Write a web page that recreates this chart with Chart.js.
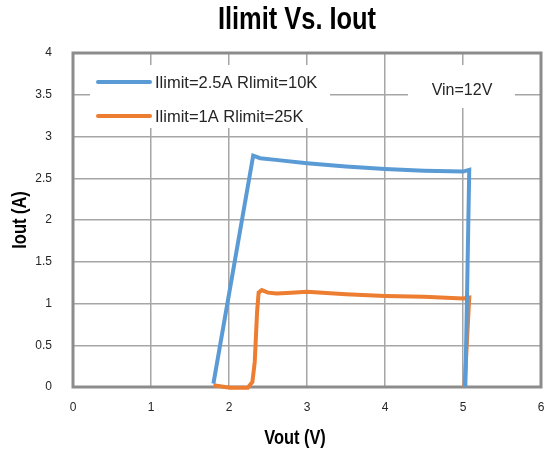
<!DOCTYPE html>
<html>
<head>
<meta charset="utf-8">
<script src="https://cdn.jsdelivr.net/npm/chart.js@4"></script>
<style>
  html, body { margin: 0; background: #fff; }
  #wrap { width: 545px; height: 455px; }
</style>
</head>
<body>
<div id="wrap"><canvas id="chart"></canvas></div>
<script>
// Ilimit=2.5A Rlimit=10K
const blue_x = [1.80, 2.31, 2.40, 2.60, 3.00, 3.50, 4.00, 4.50, 5.00, 5.08, 5.05, 5.03];
const blue_y = [0.04, 2.77, 2.74, 2.72, 2.68, 2.64, 2.61, 2.59, 2.58, 2.60, 1.00, 0.00];
// Ilimit=1A Rlimit=25K
const orange_x = [1.80, 2.01, 2.24, 2.30, 2.33, 2.36, 2.38, 2.42, 2.50, 2.61, 2.80, 3.00, 3.50, 4.00, 4.50, 5.00, 5.08, 5.02];
const orange_y = [0.02, -0.01, -0.01, 0.06, 0.30, 0.90, 1.13, 1.16, 1.13, 1.12, 1.13, 1.14, 1.11, 1.09, 1.08, 1.06, 1.07, 0.00];

const series_names = ["Ilimit=2.5A Rlimit=10K", "Ilimit=1A Rlimit=25K"];
const chart_title = "Ilimit Vs. Iout";
const x_title = "Vout (V)";
const y_title = "Iout (A)";
const note_text = "Vin=12V";

const to_points = (xs, ys) => xs.map((x, i) => ({ x: x, y: ys[i] }));

// bold text squeezed sideways, no narrow font installed
function narrow_text(ctx, text, x, y, size, rot) {
  ctx.save();
  ctx.translate(x, y);
  ctx.rotate(rot);
  ctx.scale(0.82, 1);
  ctx.font = "bold " + size + "px 'Liberation Sans'";
  ctx.fillStyle = "#000";
  ctx.textAlign = "center";
  ctx.textBaseline = "alphabetic";
  ctx.fillText(text, 0, 0);
  ctx.restore();
}

// titles, in-plot legend, note box and plot frame
const extras = {
  id: "extras",
  beforeDatasetsDraw(chart) {
    const { ctx, chartArea: a } = chart;
    ctx.save();
    ctx.fillStyle = "#fff";
    ctx.fillRect(a.left + 17, a.top + 12, 240, 63);
    ctx.fillRect(a.left + 335, a.top + 12, 107, 43);
    ctx.strokeStyle = "#8c8c8c";
    ctx.lineWidth = 3;
    ctx.strokeRect(a.left, a.top, a.right - a.left, a.bottom - a.top);
    ctx.restore();
  },
  afterDraw(chart) {
    const { ctx, chartArea: a } = chart;
    ctx.save();
    chart.data.datasets.forEach((ds, i) => {
      const y = a.top + 29 + i * 34;
      ctx.strokeStyle = ds.borderColor;
      ctx.lineWidth = 4;
      ctx.lineCap = "round";
      ctx.beginPath();
      ctx.moveTo(a.left + 25, y);
      ctx.lineTo(a.left + 77, y);
      ctx.stroke();
      ctx.fillStyle = "#262626";
      ctx.font = "16.5px 'Liberation Sans'";
      ctx.textBaseline = "middle";
      ctx.textAlign = "left";
      ctx.fillText(ds.label, a.left + 82, y + 1);
    });
    ctx.textAlign = "center";
    ctx.font = "16px 'Liberation Sans'";
    ctx.fillText(note_text, a.left + 389, a.top + 38);
    ctx.restore();

    narrow_text(ctx, chart_title, 297, 29, 31, 0);
    narrow_text(ctx, x_title, 295, 444, 20, 0);
    narrow_text(ctx, y_title, 26, (a.top + a.bottom) / 2, 20, -Math.PI / 2);
  }
};

const tick_font = { family: "'Liberation Sans'", size: 12 };

new Chart(document.getElementById("chart"), {
  type: "scatter",
  data: {
    datasets: [
      {
        label: series_names[0],
        data: to_points(blue_x, blue_y),
        showLine: true,
        borderColor: "#5b9bd5",
        borderWidth: 4,
        pointRadius: 0,
        clip: false
      },
      {
        label: series_names[1],
        data: to_points(orange_x, orange_y),
        showLine: true,
        borderColor: "#ed7d31",
        borderWidth: 4,
        pointRadius: 0,
        clip: false
      }
    ]
  },
  options: {
    responsive: true,
    maintainAspectRatio: false,
    animation: false,
    layout: { padding: { top: 53, right: 4, left: 0, bottom: 0 } },
    plugins: {
      legend: { display: false },
      tooltip: { enabled: false },
      title: { display: false }
    },
    scales: {
      x: {
        type: "linear",
        min: 0,
        max: 6,
        afterFit(s) { s.height = 68; s.paddingRight = 0; s.paddingLeft = 0; },
        ticks: { stepSize: 1, padding: 13, color: "#262626", font: tick_font, callback: v => String(v) },
        grid: { color: "#a6a6a6", lineWidth: 1.5, drawTicks: false },
        border: { display: false }
      },
      y: {
        min: 0,
        max: 4,
        afterFit(s) { s.width = 73; s.paddingTop = 0; s.paddingBottom = 0; },
        ticks: { stepSize: 0.5, padding: 21, color: "#262626", font: tick_font, callback: v => String(v) },
        grid: { color: "#a6a6a6", lineWidth: 1.5, drawTicks: false },
        border: { display: false }
      }
    }
  },
  plugins: [extras]
});
</script>
</body>
</html>
